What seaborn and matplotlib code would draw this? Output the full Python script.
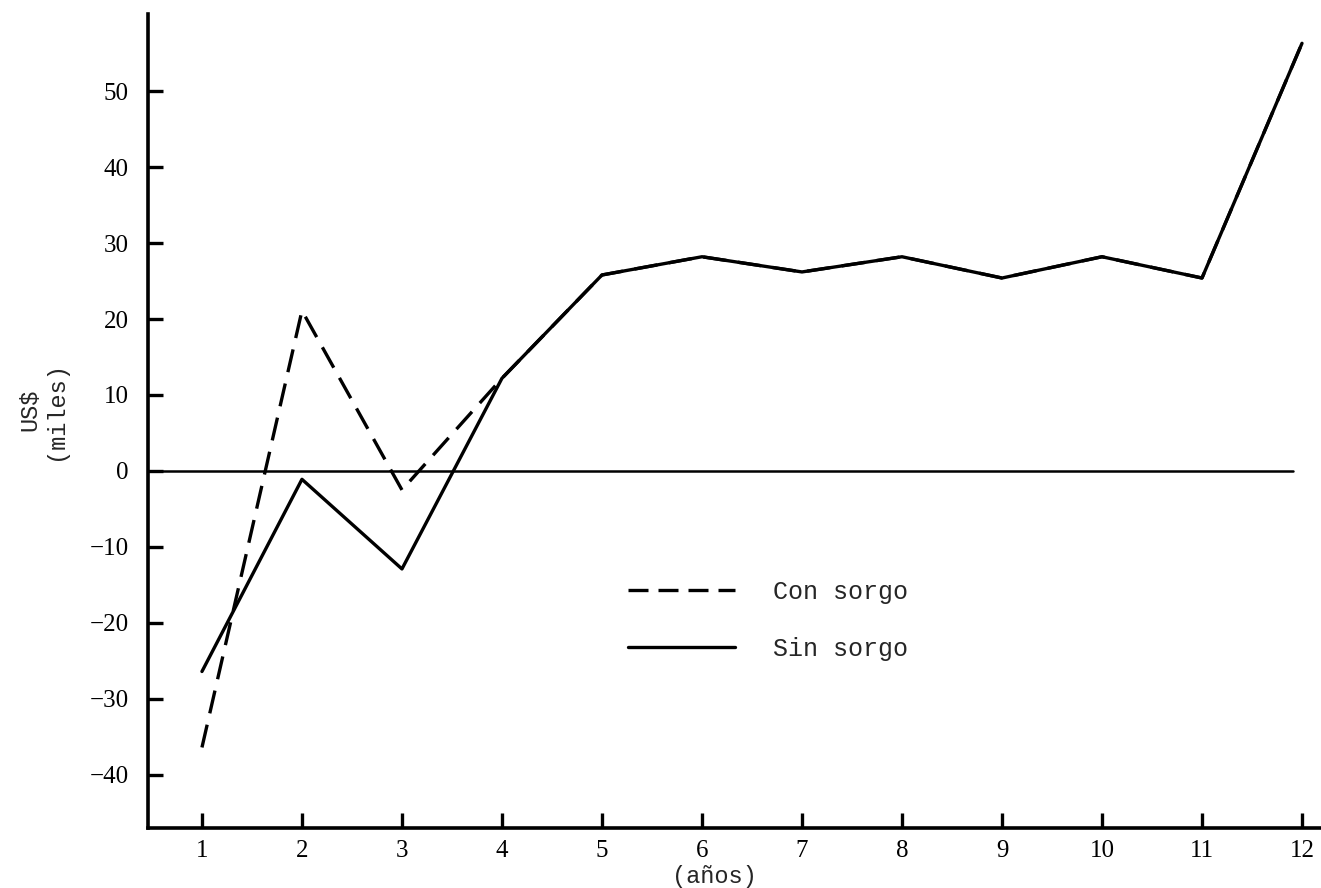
import matplotlib
matplotlib.use("Agg")
import matplotlib.pyplot as plt
import seaborn as sns
import pandas as pd
from matplotlib.lines import Line2D

# Annual net benefit (thousand US$) for the two scenarios
anios = list(range(1, 13))
con_sorgo = [-36.4, 21.1, -2.5, 12.2, 25.8, 28.2, 26.2, 28.2, 25.4, 28.2, 25.4, 56.3]
sin_sorgo = [-26.4, -1.1, -12.9, 12.2, 25.8, 28.2, 26.2, 28.2, 25.4, 28.2, 25.4, 56.3]
series = ["Con sorgo", "Sin sorgo"]
y_ticks = [-40, -30, -20, -10, 0, 10, 20, 30, 40, 50]

df = pd.DataFrame({
    "anio": anios * 2,
    "valor": con_sorgo + sin_sorgo,
    "serie": [series[0]] * len(anios) + [series[1]] * len(anios),
})

sns.set_style("white")
plt.rcParams["font.family"] = ["Liberation Serif", "DejaVu Serif"]
mono = ["Liberation Mono", "DejaVu Sans Mono"]

fig = plt.figure(figsize=(13.21, 8.88), dpi=100)
ax = fig.add_axes([0.112, 0.0676, 0.888, 0.917])

sns.lineplot(data=df, x="anio", y="valor", style="serie",
             dashes={"Con sorgo": (7, 3.5), "Sin sorgo": ""},
             color="black", linewidth=2.4, legend=False, ax=ax,
             estimator=None, sort=False)

# zero reference line
ax.axhline(0, xmin=0, xmax=0.976, color="black", linewidth=1.8)

ax.set_xlim(0.46, 12.19)
ax.set_ylim(-47, 60.2)
ax.set_xticks(anios)
ax.set_yticks(y_ticks)
ax.set_yticklabels([str(v).replace("-", "\u2212") for v in y_ticks])

for side in ["top", "right"]:
    ax.spines[side].set_visible(False)
for side in ["left", "bottom"]:
    ax.spines[side].set_linewidth(2.6)
    ax.spines[side].set_color("black")

ax.tick_params(axis="both", direction="in", length=11, width=2.4,
               labelsize=18, colors="black", bottom=True, left=True)
ax.tick_params(axis="y", pad=14)
ax.tick_params(axis="x", pad=9)

ax.set_xlabel("(años)", fontsize=17, family=mono)
ax.xaxis.set_label_coords(0.483, -0.045)
ax.set_ylabel("US$\n(miles)", fontsize=17, family=mono, linespacing=1.15)
ax.yaxis.set_label_coords(-0.069, 0.513)

handles = [
    Line2D([0], [0], color="black", linewidth=2.4, dashes=(6, 3)),
    Line2D([0], [0], color="black", linewidth=2.4),
]
ax.legend(handles, series, loc="center left", bbox_to_anchor=(0.39, 0.255),
          frameon=False, handlelength=4.3, handletextpad=1.5, labelspacing=1.3,
          prop={"family": mono, "size": 18})

fig.savefig("out.png", dpi=100)
